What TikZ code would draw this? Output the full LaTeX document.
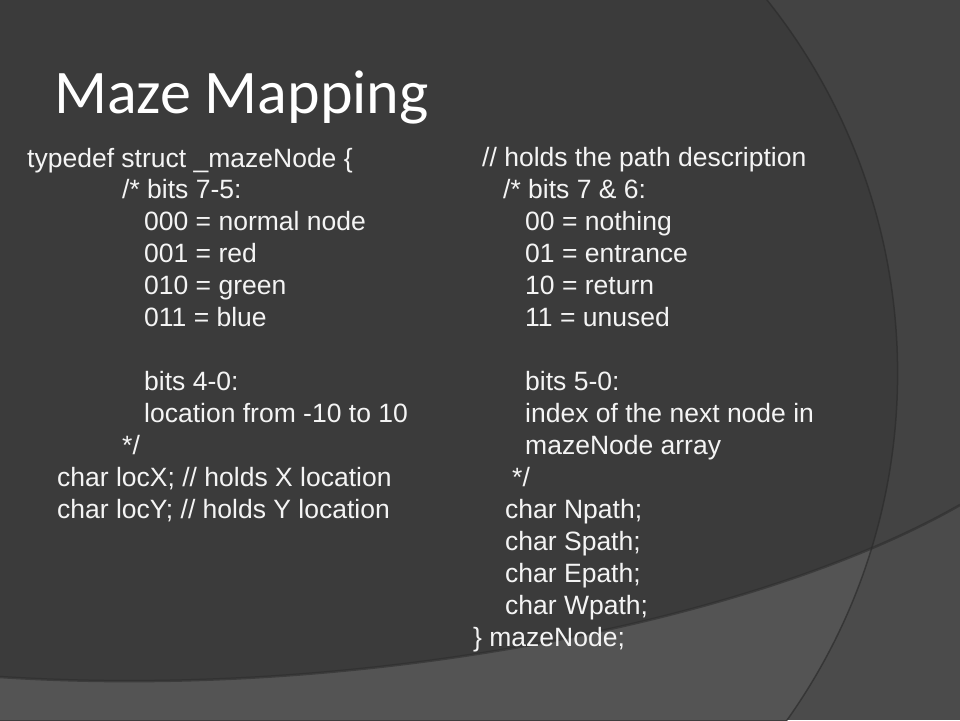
\documentclass[tikz,border=0pt]{standalone}
\usepackage{fontspec}
\setmainfont{Liberation Sans}
\newfontfamily\titlefont{Carlito}
\usepackage{tikz}

\definecolor{slidedark}{RGB}{59,59,59}
\definecolor{slideright}{RGB}{67,67,67}
\definecolor{slidelow}{RGB}{84,84,84}
\definecolor{slidelowright}{RGB}{75,75,75}
\definecolor{slideedge}{RGB}{44,44,44}
\definecolor{codetext}{RGB}{244,244,244}

\tikzset{
  code/.style={anchor=base west, inner sep=0pt, text=codetext, font=\fontsize{26.5}{32}\selectfont},
  heading/.style={anchor=base west, inner sep=0pt, text=white, font=\titlefont\fontsize{62}{70}\selectfont}
}

\begin{document}
\begin{tikzpicture}[x=1pt,y=-1pt]
\useasboundingbox (0,0) rectangle (960,720);
% background bands
\fill [slideright] (0,0) rectangle (960,720);
\begin{scope}
  \clip (0,0) rectangle (960,720);
  \fill [slidedark] (298.8,373.3) circle [radius=598.8pt];
\end{scope}
\begin{scope}
  \clip (0,677) .. controls (350,700) and (750,625) .. (960,505) -- (960,720) -- (0,720) -- cycle;
  \fill [slidelowright] (0,0) rectangle (960,720);
  \fill [slidelow] (298.8,373.3) circle [radius=598.8pt];
\end{scope}
\begin{scope}
  \clip (0,0) rectangle (960,720);
  \draw [slideedge, line width=1.5pt, opacity=0.7] (298.8,373.3) circle [radius=598.8pt];
\end{scope}
\draw [slideedge, line width=2.5pt, opacity=0.6] (0,677) .. controls (350,700) and (750,625) .. (960,505);

% title
\node [heading] (title) at (54,113) {Maze Mapping};

% left column
\node [code] (l1)  at (27,167)  {typedef struct \_mazeNode \{};
\node [code] (l2)  at (122,198) {/* bits 7-5:};
\node [code] (l3)  at (144,230) {000 = normal node};
\node [code] (l4)  at (144,262) {001 = red};
\node [code] (l5)  at (144,294) {010 = green};
\node [code] (l6)  at (144,326) {011 = blue};
\node [code] (l7)  at (144,390) {bits 4-0:};
\node [code] (l8)  at (144,422) {location from -10 to 10};
\node [code] (l9)  at (122,454) {*/};
\node [code] (l10) at (57,486)  {char locX; // holds X location};
\node [code] (l11) at (57,518)  {char locY; // holds Y location};

% right column
\node [code] (r1)  at (482,166) {// holds the path description};
\node [code] (r2)  at (503,198) {/* bits 7 \& 6:};
\node [code] (r3)  at (525,230) {00 = nothing};
\node [code] (r4)  at (525,262) {01 = entrance};
\node [code] (r5)  at (525,294) {10 = return};
\node [code] (r6)  at (525,326) {11 = unused};
\node [code] (r7)  at (525,390) {bits 5-0:};
\node [code] (r8)  at (525,422) {index of the next node in};
\node [code] (r9)  at (525,454) {mazeNode array};
\node [code] (r10) at (512,486) {*/};
\node [code] (r11) at (505,518) {char Npath;};
\node [code] (r12) at (505,550) {char Spath;};
\node [code] (r13) at (505,582) {char Epath;};
\node [code] (r14) at (505,614) {char Wpath;};
\node [code] (r15) at (473,646) {\} mazeNode;};
\end{tikzpicture}
\end{document}
